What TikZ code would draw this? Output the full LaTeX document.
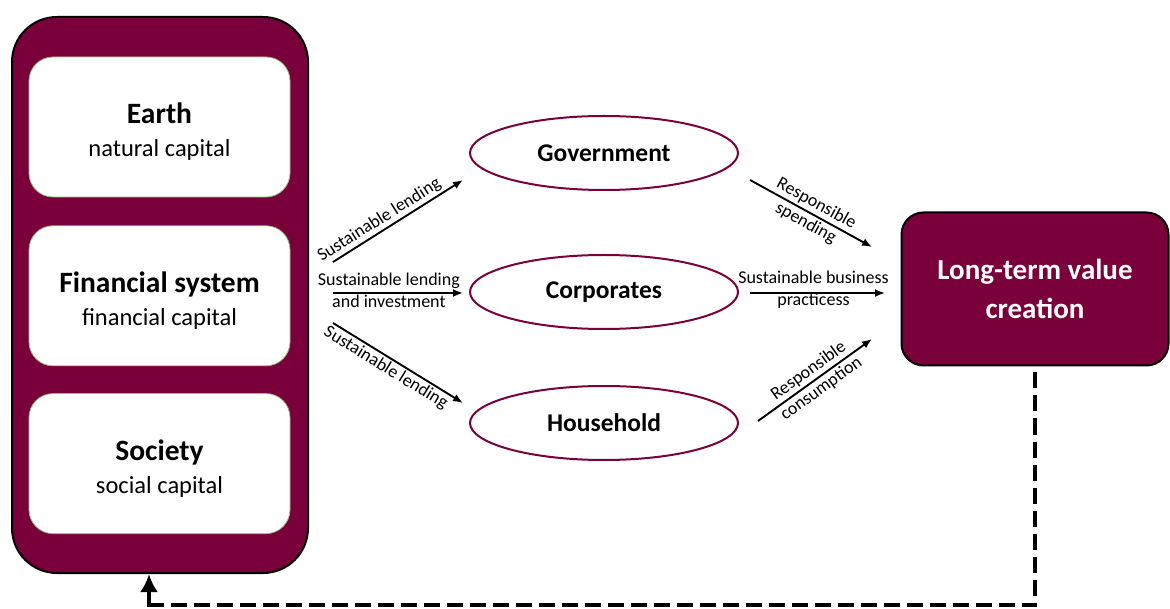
\documentclass[tikz,border=0pt]{standalone}
\usepackage{fontspec}
\setmainfont{Carlito}
\usetikzlibrary{arrows,arrows.meta,positioning,shapes.geometric}
\definecolor{wine}{HTML}{7A003C}
\definecolor{leaf}{HTML}{9CBF7A}
\newcommand\ttl[1]{{\fontsize{29.5}{34}\selectfont\bfseries\rule{0pt}{30pt}#1}}

\begin{document}
\begin{tikzpicture}[x=1pt,y=-1pt,>={Latex[length=10pt,width=8pt]},
  panel/.style={draw=black,line width=2pt,fill=wine,rounded corners=45pt,minimum width=296pt,minimum height=556pt},
  capital/.style={draw=leaf,line width=0.8pt,fill=white,rounded corners=24pt,minimum width=261pt,minimum height=140pt,align=center,font=\fontsize{24.5}{33}\selectfont},
  sector/.style={ellipse,draw=wine,line width=2pt,minimum width=268pt,minimum height=74pt,font=\fontsize{25.5}{28}\selectfont\bfseries},
  outcome/.style={draw=black,line width=2pt,fill=wine,rounded corners=22pt,minimum width=267pt,minimum height=153pt,text=white,align=center,font=\fontsize{29}{39}\selectfont\bfseries},
  flow/.style={->,line width=1.9pt},
  lab/.style={font=\fontsize{18}{22}\selectfont,align=center,inner sep=2pt},
  feedback/.style={line width=4pt,dash pattern=on 16pt off 7pt}]
\useasboundingbox (0,0) rectangle (1170,609);

% capitals
\node[panel] (outer) at (160,295) {};
\node[capital] (earth) at (159.5,127) {\ttl{Earth}\\natural capital};
\node[capital,below=28pt of earth] (finance) {\ttl{Financial system}\\financial capital};
\node[capital,below=27pt of finance] (society) {\ttl{Society}\\social capital};

% sectors
\node[sector] (gov) at (604,153) {Government};
\node[sector,below=63pt of gov] (corp) {Corporates};
\node[sector,below=55pt of corp] (house) {Household};

\node[outcome] (value) at (1035,289) {Long-term value\\creation};

\coordinate (a1) at (333,262); \coordinate (b1) at (463,180);
\coordinate (a2) at (333,293); \coordinate (b2) at (463,293);
\coordinate (a3) at (333,323); \coordinate (b3) at (463,403);
\coordinate (c1) at (750,180); \coordinate (d1) at (872,247);
\coordinate (c2) at (750,293); \coordinate (d2) at (885,293);
\coordinate (c3) at (758,421); \coordinate (d3) at (872,339);

\path[flow] (a1) edge node[lab,sloped,above,pos=.4] {Sustainable lending} (b1)
	(a2) edge node[lab,pos=.43,yshift=3pt] {Sustainable lending\\and investment} (b2)
	(a3) edge node[lab,sloped,below,pos=.45] {Sustainable lending} (b3)
	(c1) edge node[lab,sloped,pos=.5] {Responsible\\spending} (d1)
	(c2) edge node[lab,pos=.47,yshift=3pt] {Sustainable business\\practicess} (d2)
	(c3) edge node[lab,sloped,pos=.5] {Responsible\\consumption} (d3);

% feedback loop
\coordinate (turn) at (149,605);
\draw[feedback] ([yshift=-6pt]value.south) |- ([xshift=-2pt]turn);
\draw[-{Latex[length=18pt,width=18pt]},line width=4pt] ([yshift=-2pt]turn) -- (turn |- outer.south);
\end{tikzpicture}
\end{document}
